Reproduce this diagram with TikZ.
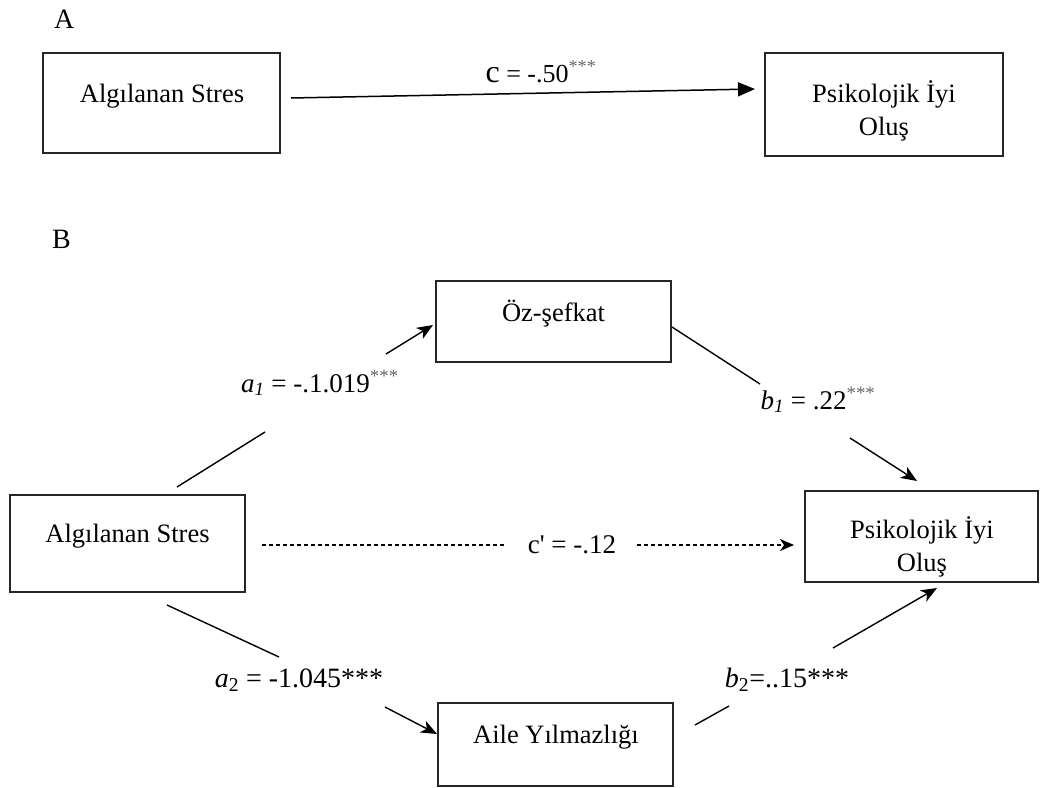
\documentclass[tikz,border=0pt]{standalone}
\usepackage{fontspec}
\setmainfont{Liberation Serif}
\usetikzlibrary{arrows.meta}
\newcommand{\stars}{\textsuperscript{\color{black!60}***}}
\begin{document}
\begin{tikzpicture}[x=1pt,y=-1pt,
  box/.style={draw=black!85, line width=1.3pt, inner sep=0pt},
  txt/.style={inner sep=0pt, anchor=base, font=\fontsize{26.5}{33.5}\selectfont},
  lab/.style={inner sep=0pt, anchor=base, font=\fontsize{27}{33}\selectfont},
  panel/.style={inner sep=0pt, anchor=base west, font=\fontsize{28}{33}\selectfont},
  conn/.style={line width=1.4pt},
  arr/.style={line width=1.4pt, -{Stealth[length=16pt,width=13pt,inset=4.5pt]}},
  dconn/.style={line width=1.1pt, dash pattern=on 4pt off 3pt},
  darr/.style={line width=1.1pt, dash pattern=on 4pt off 3pt, -{Stealth[length=14pt,width=12pt,inset=4pt]}}]
\useasboundingbox (0,0) rectangle (1040,787);

% ---------- Panel A ----------
\node[panel] (pA) at (54,28) {A};
\node[box, minimum width=237pt, minimum height=100pt] (A1) at (161.5,103) {};
\node[box, minimum width=238pt, minimum height=103pt] (A2) at (884,104.5) {};
\node[txt] (tA1) at (162,102) {Algılanan Stres};
\node[txt] (tA2) at (884,102) {\begin{tabular}[t]{@{}c@{}}Psikolojik İyi\\Oluş\end{tabular}};

\coordinate (cA1) at (291,98);
\coordinate (cA2) at (755,89);
\draw[line width=1.5pt, -{Triangle[length=17pt,width=14pt]}] (cA1) -- (cA2);
\node[inner sep=0pt, anchor=base, font=\fontsize{26}{30}\selectfont] (lc) at (541,82)
  {{\fontsize{32}{32}\selectfont c} = -.50\stars};

% ---------- Panel B ----------
\node[panel] (pB) at (52,248) {B};
\node[box, minimum width=235pt, minimum height=81pt] (OZ) at (553.5,321.5) {};
\node[box, minimum width=235pt, minimum height=97pt] (SB) at (127.5,543.5) {};
\node[box, minimum width=233pt, minimum height=91pt] (PB) at (921.5,536.5) {};
\node[box, minimum width=235pt, minimum height=83pt] (AY) at (555.5,744.5) {};

\node[txt] (tOZ) at (553.5,321) {Öz-şefkat};
\node[txt] (tSB) at (127.5,542) {Algılanan Stres};
\node[txt] (tPB) at (922,538) {\begin{tabular}[t]{@{}c@{}}Psikolojik İyi\\Oluş\end{tabular}};
\node[txt] (tAY) at (556,743) {Aile Yılmazlığı};

% a1 path
\coordinate (a1s) at (177,487);
\coordinate (a1m) at (265,432);
\coordinate (a1n) at (386,354);
\coordinate (a1e) at (433,325);
\draw[conn] (a1s) -- (a1m);
\draw[arr] (a1n) -- (a1e);
\node[lab] (la1) at (320,392) {\textit{a}\textsubscript{\textit{1}} = -.1.019\stars};

% b1 path
\coordinate (b1s) at (672,327);
\coordinate (b1m) at (760,384);
\coordinate (b1n) at (850,438);
\coordinate (b1e) at (917,481);
\draw[conn] (b1s) -- (b1m);
\draw[arr] (b1n) -- (b1e);
\node[lab] (lb1) at (818,409) {\textit{b}\textsubscript{\textit{1}} = .22\stars};

% c' path
\coordinate (cps) at (262,545);
\coordinate (cpm) at (505,545);
\coordinate (cpn) at (637,545);
\coordinate (cpe) at (794,545);
\draw[dconn] (cps) -- (cpm);
\draw[darr] (cpn) -- (cpe);
\node[lab] (lcp) at (572,553) {c\textquotesingle{} = -.12};

% a2 path
\coordinate (a2s) at (167,605);
\coordinate (a2m) at (279,657);
\coordinate (a2n) at (385,707);
\coordinate (a2e) at (437,734);
\draw[conn] (a2s) -- (a2m);
\draw[arr] (a2n) -- (a2e);
\node[lab, font=\fontsize{28}{33}\selectfont] (la2) at (299,687) {\textit{a}\textsubscript{2} = -1.045***};

% b2 path
\coordinate (b2s) at (695,725);
\coordinate (b2m) at (729,706);
\coordinate (b2n) at (833,648);
\coordinate (b2e) at (937,588);
\draw[conn] (b2s) -- (b2m);
\draw[arr] (b2n) -- (b2e);
\node[lab, font=\fontsize{28}{33}\selectfont] (lb2) at (787,687) {\textit{b}\textsubscript{2}=..15***};
\end{tikzpicture}
\end{document}
